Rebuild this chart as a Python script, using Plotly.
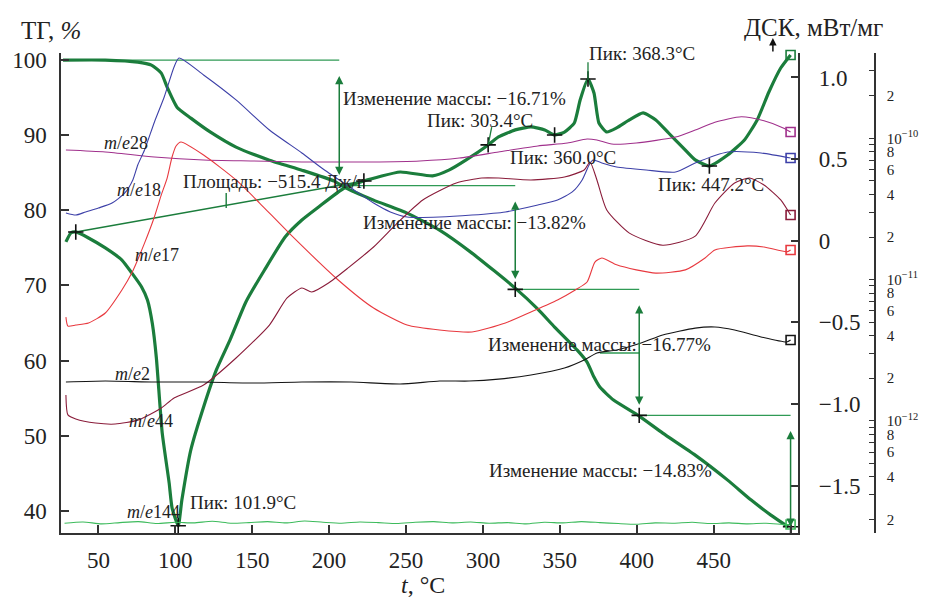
import plotly.graph_objects as go

FONT = "Liberation Serif, Times New Roman, serif"

# ---------------- data ----------------
# TG curve (%), temperature in degC
tg_t = [27.0, 54.5, 75.6, 84.5, 90.9, 94.7, 101.1, 110.1, 122.9, 139.5, 161.2, 182.3, 203.4, 209.8,
        228.9, 250.7, 271.8, 292.9, 321.0, 335.7, 346.6, 361.3, 367.7, 372.2, 376.0, 384.9, 401.6,
        416.9, 438.0, 459.1, 474.4, 487.2, 498.7]
tg_val = [100.0, 100.0, 99.73, 99.33, 98.27, 96.40, 93.74, 92.28, 90.41, 88.42, 86.68, 85.35, 83.89, 83.09,
          81.36, 79.63, 77.36, 74.30, 69.64, 66.84, 64.45, 61.38, 59.79, 57.79, 56.46, 54.73, 52.60,
          50.33, 47.40, 44.07, 41.41, 39.41, 37.81]

# DSC curve (mW/mg)
dsc_t = [28.9, 32.1, 35.3, 43.6, 54.5, 65.3, 71.7, 78.1, 81.9, 85.1, 87.7, 91.5, 96.0, 97.9, 101.9,
         104.3, 110.1, 118.4, 126.7, 135.6, 145.9, 158.0, 171.4, 182.3, 193.2, 209.8, 222.6, 246.2,
         267.3, 278.2, 289.1, 303.4, 310.1, 321.0, 331.2, 340.2, 346.6, 353.0, 359.4, 363.2, 368.3,
         372.2, 375.4, 380.5, 386.9, 395.2, 404.1, 412.4, 420.7, 429.7, 438.0, 447.2, 459.1, 470.0,
         478.3, 485.9, 493.6, 500.0]
dsc_val = [-0.007, 0.048, 0.054, 0.017, -0.044, -0.118, -0.197, -0.283, -0.363, -0.509, -0.718, -1.177,
           -1.483, -1.636, -1.746, -1.587, -1.281, -1.018, -0.791, -0.607, -0.375, -0.179, 0.023, 0.127,
           0.207, 0.323, 0.366, 0.421, 0.397, 0.434, 0.495, 0.587, 0.636, 0.679, 0.697, 0.679, 0.648,
           0.666, 0.721, 0.862, 0.991, 0.905, 0.721, 0.666, 0.691, 0.740, 0.783, 0.740, 0.660, 0.574,
           0.495, 0.458, 0.525, 0.617, 0.740, 0.911, 1.058, 1.138]

# Mass-spectrometry ion currents (A)
ms18_t = [28.9, 35.3, 41.7, 50.0, 58.9, 67.2, 72.4, 75.6, 80.0, 86.4, 92.8, 99.2, 102.4, 118.4, 139.5,
          161.2, 182.3, 197.0, 214.3, 228.9, 239.8, 250.7, 271.8, 292.9, 314.6, 335.7, 348.5, 358.1,
          364.5, 369.0, 371.5, 377.3, 386.9, 406.1, 425.2, 438.0, 459.1, 480.8, 500.0]
ms18 = [2.96e-11, 2.86e-11, 3.01e-11, 3.21e-11, 3.48e-11, 4.10e-11, 5.07e-11, 6.47e-11, 8.26e-11, 1.30e-10,
        1.96e-10, 3.20e-10, 3.70e-10, 2.81e-10, 1.87e-10, 1.145e-10, 7.87e-11, 5.96e-11, 4.45e-11,
        3.48e-11, 3.01e-11, 2.77e-11, 2.77e-11, 2.86e-11, 3.01e-11, 3.37e-11, 3.66e-11, 4.17e-11,
        5.07e-11, 6.47e-11, 7.02e-11, 6.69e-11, 6.26e-11, 5.96e-11, 5.77e-11, 6.69e-11, 8.00e-11,
        7.87e-11, 7.25e-11]

ms17_t = [28.9, 30.2, 35.3, 43.6, 54.5, 65.3, 71.7, 80.0, 86.4, 90.9, 94.7, 97.9, 100.5, 103.7, 118.4,
          139.5, 154.8, 174.0, 205.9, 228.9, 250.7, 271.8, 292.9, 314.6, 331.2, 348.5, 360.0, 367.7,
          372.8, 377.3, 386.9, 399.7, 412.4, 431.6, 444.4, 450.8, 471.9, 482.7, 497.5, 500.0]
ms17 = [5.42e-12, 4.68e-12, 4.76e-12, 4.92e-12, 5.79e-12, 8.43e-12, 1.11e-11, 1.81e-11, 2.77e-11, 3.97e-11,
        5.23e-11, 7.37e-11, 8.82e-11, 9.41e-11, 7.61e-11, 5.07e-11, 3.48e-11, 2.13e-11, 9.92e-12,
        6.28e-12, 4.76e-12, 4.39e-12, 4.25e-12, 4.92e-12, 5.89e-12, 7.16e-12, 8.43e-12, 9.60e-12,
        1.33e-11, 1.42e-11, 1.27e-11, 1.17e-11, 1.11e-11, 1.17e-11, 1.42e-11, 1.62e-11, 1.73e-11,
        1.70e-11, 1.57e-11, 1.62e-11]

ms28_t = [28.9, 54.5, 86.4, 118.4, 150.3, 182.3, 227.0, 259.0, 284.6, 310.1, 335.7, 354.9, 367.7, 374.1,
          383.7, 399.7, 425.2, 438.0, 450.8, 468.0, 482.7, 495.6, 500.0]
ms28 = [8.26e-11, 8.00e-11, 7.37e-11, 7.02e-11, 6.91e-11, 6.80e-11, 6.80e-11, 6.91e-11, 7.25e-11, 8.00e-11,
        8.82e-11, 9.26e-11, 9.89e-11, 9.72e-11, 9.11e-11, 9.26e-11, 1.02e-10, 1.145e-10, 1.30e-10,
        1.42e-10, 1.33e-10, 1.18e-10, 1.108e-10]

ms44_t = [28.9, 30.2, 35.3, 48.1, 60.9, 75.6, 90.9, 99.2, 118.4, 139.5, 161.2, 172.7, 182.3, 188.7, 199.6,
          212.4, 228.9, 244.3, 260.9, 282.7, 299.3, 310.1, 331.2, 353.0, 365.8, 369.6, 374.1, 380.5,
          395.2, 416.9, 438.0, 450.8, 463.6, 473.2, 482.7, 493.6, 500.0]
ms44 = [1.52e-12, 1.10e-12, 1.03e-12, 9.63e-13, 9.47e-13, 1.01e-12, 1.23e-12, 1.45e-12, 1.79e-12, 2.78e-12,
        4.76e-12, 7.40e-12, 8.71e-12, 8.15e-12, 9.45e-12, 1.21e-11, 1.70e-11, 2.51e-11, 3.66e-11,
        4.83e-11, 5.23e-11, 5.23e-11, 5.07e-11, 5.32e-11, 5.96e-11, 6.80e-11, 5.07e-11, 3.11e-11,
        2.13e-11, 1.75e-11, 2.03e-11, 3.48e-11, 4.83e-11, 5.23e-11, 4.67e-11, 3.66e-11, 2.86e-11]

ms2_t = [28.9, 54.5, 86.4, 118.4, 150.3, 182.3, 214.3, 246.2, 271.8, 291.0, 310.1, 331.2, 353.0, 365.8,
         374.1, 386.9, 402.8, 416.9, 438.0, 450.8, 463.6, 480.8, 497.5, 500.0]
ms2 = [1.88e-12, 1.91e-12, 1.88e-12, 1.88e-12, 1.85e-12, 1.88e-12, 1.88e-12, 1.82e-12, 1.91e-12, 1.91e-12,
       1.97e-12, 2.11e-12, 2.36e-12, 2.69e-12, 3.02e-12, 3.17e-12, 3.55e-12, 4.05e-12, 4.53e-12,
       4.61e-12, 4.39e-12, 3.92e-12, 3.61e-12, 3.73e-12]

ms144_t = [28, 40, 52, 64, 76, 88, 100, 112, 124, 136, 148, 160, 172, 184, 196, 208, 220, 232, 244, 256,
           268, 280, 292, 304, 316, 328, 340, 352, 364, 376, 388, 400, 412, 424, 436, 448, 460, 472,
           484, 496, 500]
ms144 = [1.88e-13, 1.92e-13, 1.86e-13, 1.90e-13, 1.93e-13, 1.87e-13, 1.91e-13, 1.89e-13, 1.94e-13, 1.88e-13,
         1.90e-13, 1.93e-13, 1.89e-13, 1.95e-13, 1.91e-13, 1.88e-13, 1.92e-13, 1.90e-13, 1.87e-13,
         1.91e-13, 1.93e-13, 1.89e-13, 1.92e-13, 1.88e-13, 1.90e-13, 1.86e-13, 1.91e-13, 1.89e-13,
         1.93e-13, 1.90e-13, 1.87e-13, 1.85e-13, 1.89e-13, 1.88e-13, 1.91e-13, 1.87e-13, 1.89e-13,
         1.86e-13, 1.88e-13, 1.84e-13, 1.84e-13]

# Mass-change steps (TG %)
mass_levels = [100.0, 83.29, 69.47, 52.70, 37.87]
step_t = [27.0, 206.6, 321.0, 401.6, 500.0]
mass_changes = ["−16.71%", "−13.82%", "−16.77%", "−14.83%"]

# DSC peak / marker points
dsc_mark_t = [35.3, 101.9, 222.6, 303.4, 346.6, 368.3, 447.2]
dsc_mark_v = [0.054, -1.746, 0.366, 0.587, 0.648, 0.991, 0.458]
tg_mark_t = [321.0, 401.6, 500.0]
tg_mark_v = [69.47, 52.70, 37.87]

# Peak-area baseline (DSC units)
area_base_t = [35.3, 222.6]
area_base_v = [0.054, 0.366]
area_tick_t = [133.1, 133.1]
area_tick_v = [0.293, 0.201]
aux_seg_t = [376.0, 401.6]
aux_seg_v = [61.0, 61.0]

# axis ticks
x_ticks = [50, 100, 150, 200, 250, 300, 350, 400, 450, 500]
x_ticktext = ["50", "100", "150", "200", "250", "300", "350", "400", "450", ""]
tg_ticks = [40, 50, 60, 70, 80, 90, 100]
dsc_ticks = [-1.5, -1.0, -0.5, 0, 0.5, 1.0]
dsc_ticktext = ["−1.5", "−1.0", "−0.5", "0", "0.5", "1.0"]
log_ticks = [2e-13, 3e-13, 4e-13, 5e-13, 6e-13, 7e-13, 8e-13, 9e-13,
             1e-12, 2e-12, 3e-12, 4e-12, 5e-12, 6e-12, 7e-12, 8e-12, 9e-12,
             1e-11, 2e-11, 3e-11, 4e-11, 5e-11, 6e-11, 7e-11, 8e-11, 9e-11,
             1e-10, 2e-10, 3e-10]
log_ticktext = ["2", "", "4", "", "6", "", "8", "",
                "10<sup>−12</sup>", "2", "", "4", "", "6", "", "8", "",
                "10<sup>−11</sup>", "2", "", "4", "", "6", "", "8", "",
                "10<sup>−10</sup>", "2", ""]

# ---------------- styles ----------------
GREEN = "#1b7d3c"
LGREEN = "#2f9a55"
C18 = "#3d40a8"
C17 = "#e8393f"
C28 = "#a0308c"
C44 = "#8a1c3a"
C2 = "#151515"
C144 = "#3dbb5c"

fig = go.Figure()

def ms_trace(t, v, color):
    return go.Scatter(x=t, y=v, yaxis="y3", mode="lines", hoverinfo="skip",
                      line=dict(color=color, width=1.1, shape="spline", smoothing=0.6))

for t, v, c in [(ms28_t, ms28, C28), (ms18_t, ms18, C18), (ms17_t, ms17, C17),
                (ms44_t, ms44, C44), (ms2_t, ms2, C2), (ms144_t, ms144, C144)]:
    fig.add_trace(ms_trace(t, v, c))
    fig.add_trace(go.Scatter(x=[t[-1]], y=[v[-1]], yaxis="y3", mode="markers", cliponaxis=False,
                             marker=dict(symbol="square-open", size=9, color=c, line=dict(width=1.6))))

# mass-change horizontal levels
for i in range(len(mass_levels) - 1):
    fig.add_trace(go.Scatter(x=[step_t[i], step_t[i + 1]], y=[mass_levels[i], mass_levels[i]],
                             mode="lines", line=dict(color=LGREEN, width=1.4), cliponaxis=False))
fig.add_trace(go.Scatter(x=aux_seg_t, y=aux_seg_v, mode="lines", line=dict(color=LGREEN, width=1.4)))

# DSC baseline of the area
fig.add_trace(go.Scatter(x=area_base_t, y=area_base_v, yaxis="y2", mode="lines",
                         line=dict(color=GREEN, width=1.4)))
fig.add_trace(go.Scatter(x=area_tick_t, y=area_tick_v, yaxis="y2", mode="lines",
                         line=dict(color=GREEN, width=1.4)))

# main thick curves
fig.add_trace(go.Scatter(x=tg_t, y=tg_val, mode="lines",
                         line=dict(color=GREEN, width=3.2, shape="spline", smoothing=0.5)))
fig.add_trace(go.Scatter(x=dsc_t, y=dsc_val, yaxis="y2", mode="lines",
                         line=dict(color=GREEN, width=3.2, shape="spline", smoothing=0.5)))
fig.add_trace(go.Scatter(x=[dsc_t[-1]], y=[dsc_val[-1]], yaxis="y2", mode="markers", cliponaxis=False,
                         marker=dict(symbol="square-open", size=9, color=GREEN, line=dict(width=1.6))))

# cross markers
fig.add_trace(go.Scatter(x=dsc_mark_t, y=dsc_mark_v, yaxis="y2", mode="markers", cliponaxis=False,
                         marker=dict(symbol="cross-thin", size=11, line=dict(color="#111", width=1.6))))
fig.add_trace(go.Scatter(x=tg_mark_t, y=tg_mark_v, mode="markers", cliponaxis=False,
                         marker=dict(symbol="cross-thin", size=11, line=dict(color="#111", width=1.6))))

annotations = []
# mass change arrows
for i in range(len(mass_levels) - 1):
    top = mass_levels[i] - 1.9
    bot = mass_levels[i + 1] + (1.4 if i < len(mass_levels) - 2 else 0.0)
    annotations.append(dict(x=step_t[i + 1], y=bot, ax=step_t[i + 1], ay=top, xref="x", yref="y",
                            axref="x", ayref="y", text="", showarrow=True, arrowside="end+start",
                            arrowhead=2, startarrowhead=2, arrowsize=1.1, startarrowsize=1.1,
                            arrowwidth=1.5, arrowcolor=GREEN))

def txt(x, y, s, size=19):
    return dict(x=x, y=y, xref="x", yref="y", text=s, showarrow=False, xanchor="left",
                yanchor="middle", font=dict(family=FONT, size=size, color="#222"))

annotations += [
    txt(208.0, 94.94, "Изменение массы: " + mass_changes[0]),
    txt(220.7, 78.43, "Изменение массы: " + mass_changes[1]),
    txt(301.8, 62.18, "Изменение массы: " + mass_changes[2]),
    txt(302.5, 45.41, "Изменение массы: " + mass_changes[3]),
    txt(262.2, 92.0, "Пик: 303.4°C"),
    txt(316.6, 87.08, "Пик: 360.0°C"),
    txt(367.7, 100.93, "Пик: 368.3°C"),
    txt(412.4, 83.49, "Пик: 447.2°C"),
    txt(108.2, 41.14, "Пик: 101.9°C"),
    txt(103.7, 83.89, "Площадь: −515.4 Дж/г"),
    txt(52.5, 88.95, "<i>m</i>/<i>e</i>28", 18),
    txt(60.9, 82.69, "<i>m</i>/<i>e</i>18", 18),
    txt(72.4, 74.03, "<i>m</i>/<i>e</i>17", 18),
    txt(59.6, 58.19, "<i>m</i>/<i>e</i>2", 18),
    txt(68.5, 51.93, "<i>m</i>/<i>e</i>44", 18),
    txt(67.2, 39.81, "<i>m</i>/<i>e</i>144", 18),
]
# axis titles
annotations += [
    dict(x=-0.0515, y=1.046, xref="paper", yref="paper", text="ТГ, <i>%</i>", showarrow=False,
         xanchor="left", yanchor="middle", font=dict(family=FONT, size=25, color="#222")),
    dict(x=0.8299, y=1.054, xref="paper", yref="paper", text="ДСК, мВт/мг", showarrow=False,
         xanchor="left", yanchor="middle", font=dict(family=FONT, size=25, color="#222")),
    dict(x=0.4407, y=-0.108, xref="paper", yref="paper", text="<i>t</i>, °C", showarrow=False,
         xanchor="center", yanchor="middle", font=dict(family=FONT, size=24, color="#222")),
    dict(x=488.5, y=1.031, xref="x", yref="paper", text="", showarrow=True, ax=0, ay=15,
         arrowhead=2, arrowsize=1, arrowwidth=1.5, arrowcolor="#111"),
]

shapes = [
    dict(type="line", xref="x", yref="y", x0=305.7, y0=91.08, x1=303.4, y1=88.68,
         line=dict(color=GREEN, width=1.3)),
    dict(type="line", xref="x", yref="y", x0=368.3, y0=99.73, x1=368.3, y1=97.34,
         line=dict(color=GREEN, width=1.3)),
]

axis_common = dict(showline=True, linecolor="#333", linewidth=1.5, ticks="inside", tickcolor="#333",
                   tickwidth=1.5, showgrid=False, zeroline=False,
                   tickfont=dict(family=FONT, size=23, color="#222"))

fig.update_layout(
    width=930, height=602, margin=dict(l=55, r=40, t=53, b=69),
    paper_bgcolor="white", plot_bgcolor="white", showlegend=False,
    font=dict(family=FONT, color="#222"),
    xaxis=dict(domain=[0, 0.8982], range=[25.7, 505.1], tickvals=x_ticks, ticktext=x_ticktext,
               ticklen=8, ticklabelstandoff=6, **axis_common),
    yaxis=dict(range=[37.03, 100.95], tickvals=tg_ticks, ticklen=8, ticklabelstandoff=8, **axis_common),
    yaxis2=dict(range=[-1.79, 1.15], overlaying="y", side="right", anchor="x", tickvals=dsc_ticks,
                ticktext=dsc_ticktext, ticklen=8, ticklabelstandoff=14, **axis_common),
    yaxis3=dict(type="log", range=[-12.795, -9.396], overlaying="y", anchor="free", position=0.9916,
                side="right", tickvals=log_ticks, ticktext=log_ticktext, ticklen=5, ticklabelstandoff=8,
                showline=True, linecolor="#333", linewidth=1.5, ticks="inside", tickcolor="#333",
                tickwidth=1.3, showgrid=False, zeroline=False,
                tickfont=dict(family=FONT, size=15, color="#222")),
    annotations=annotations,
    shapes=shapes,
)

fig.write_html("out.html")
